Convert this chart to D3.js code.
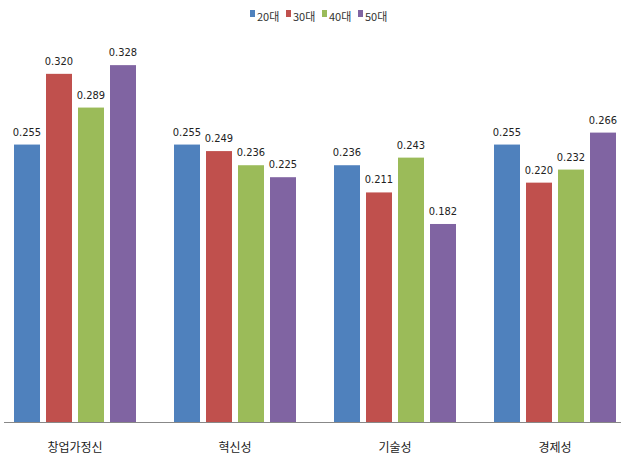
<!DOCTYPE html>
<html><head><meta charset="utf-8">
<script src="https://cdn.jsdelivr.net/npm/d3@7"></script>
<style>body{margin:0;background:#fff}svg{display:block;font-family:"Noto Sans CJK KR","Liberation Sans",sans-serif}</style>
</head><body>
<svg id="c" width="621" height="464"></svg>
<script>
const categories = ["창업가정신", "혁신성", "기술성", "경제성"];
const seriesNames = ["20대", "30대", "40대", "50대"];
const v20 = [0.255, 0.255, 0.236, 0.255];
const v30 = [0.320, 0.249, 0.211, 0.220];
const v40 = [0.289, 0.236, 0.243, 0.232];
const v50 = [0.328, 0.225, 0.182, 0.266];
const colors = ["#4F81BD", "#C0504D", "#9BBB59", "#8064A2"];
const seriesVals = [v20, v30, v40, v50];

const svg = d3.select("#c");
const x0 = d3.scaleBand().domain(categories).range([-5, 635]).paddingInner(0).paddingOuter(0);
const x1 = d3.scaleBand().domain(seriesNames).range([19, 141]).paddingInner(0.1875).paddingOuter(0);
const y = d3.scaleLinear().domain([0, 0.35]).range([422, 41.2]);

const g = svg.append("g");
categories.forEach((c, i) => {
  const gg = g.append("g").attr("transform", `translate(${x0(c)},0)`);
  seriesNames.forEach((s, j) => {
    const v = seriesVals[j][i];
    gg.append("rect").attr("x", x1(s)).attr("y", y(v)).attr("width", x1.bandwidth())
      .attr("height", y(0) - y(v)).attr("fill", colors[j]);
    gg.append("text").attr("x", x1(s) + x1.bandwidth() / 2).attr("y", y(v) - 9)
      .attr("text-anchor", "middle").attr("font-size", 11).attr("fill", "#222")
      .attr("font-family", "'Liberation Sans Narrow','DejaVu Sans Condensed',sans-serif")
      .text(v.toFixed(3));
  });
});

// axis line
svg.append("line").attr("x1", 4).attr("x2", 621).attr("y1", 422.5).attr("y2", 422.5)
  .attr("stroke", "#888").attr("stroke-width", 1);

// category labels
const xAxis = d3.axisBottom(x0).tickSize(0).tickPadding(0);
const ax = svg.append("g").attr("transform", "translate(0,422)").call(xAxis);
ax.select(".domain").remove();
ax.selectAll("text").attr("font-size", 12).attr("fill", "#222").attr("dy", "1.1em")
  .attr("y", 17).attr("font-family", "'Noto Sans CJK KR',sans-serif");

// legend
const legX = [250, 286, 322, 358];
seriesNames.forEach((s, j) => {
  const lg = svg.append("g").attr("transform", `translate(${legX[j]},0)`);
  lg.append("rect").attr("x", 0).attr("y", 10).attr("width", 5).attr("height", 7).attr("fill", colors[j]);
  lg.append("text").attr("x", 7).attr("y", 21).attr("font-size", 11).attr("fill", "#333")
    .attr("font-family", "'Noto Sans CJK KR',sans-serif").text(s);
});
</script>
</body></html>
